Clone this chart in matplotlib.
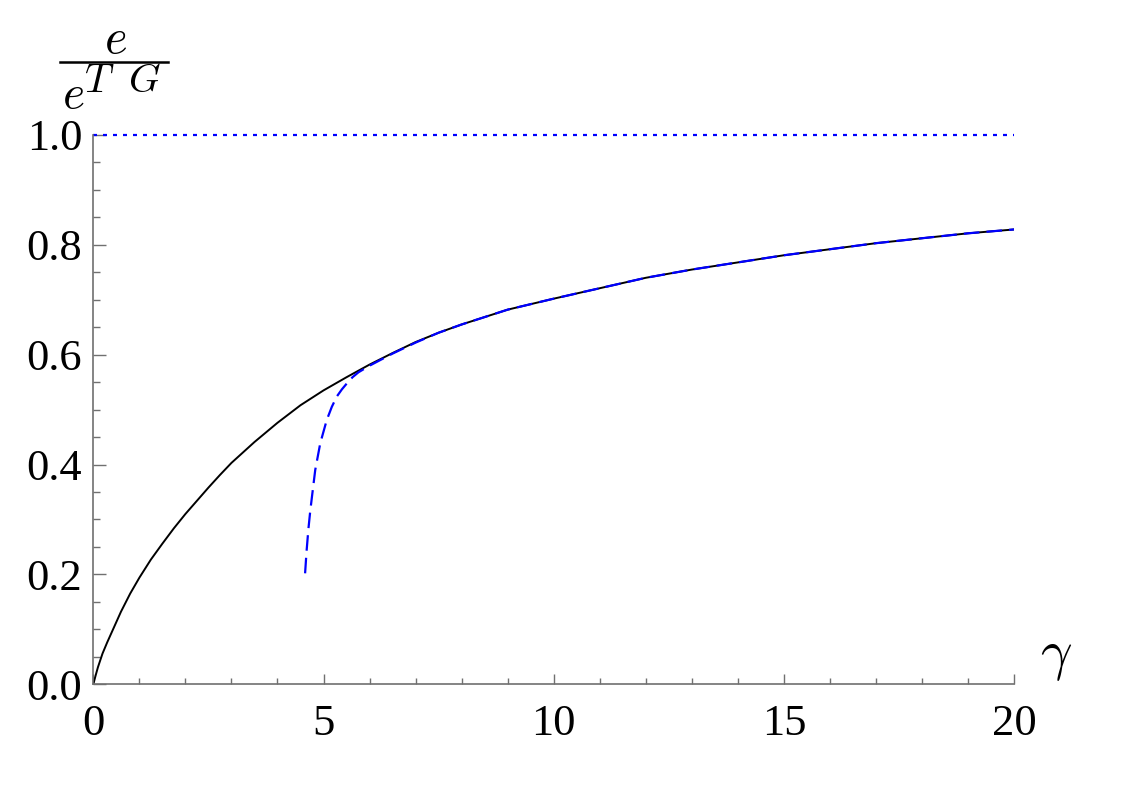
import matplotlib.pyplot as plt
from matplotlib.lines import Line2D
from matplotlib.ticker import MultipleLocator

# exact curve
gamma_exact = [0, 0.05, 0.1, 0.2, 0.3, 0.45, 0.6, 0.8, 1.0, 1.25, 1.5, 1.75, 2.0,
               2.25, 2.5, 2.75, 3.0, 3.5, 4.0, 4.5, 5.0, 5.5, 6.0, 6.5, 7.0, 7.5,
               8, 9, 10, 11, 12, 13, 14, 15, 16, 17, 18, 19, 20]
ratio_exact = [0, 0.016, 0.031, 0.056, 0.076, 0.104, 0.132, 0.165, 0.194, 0.227,
               0.256, 0.284, 0.310, 0.334, 0.358, 0.381, 0.403, 0.441, 0.476,
               0.508, 0.535, 0.559, 0.582, 0.603, 0.623, 0.640, 0.655, 0.682,
               0.702, 0.721, 0.740, 0.755, 0.768, 0.781, 0.792, 0.803, 0.812,
               0.821, 0.828]

# strong coupling expansion (dashed)
gamma_strong = [4.60, 4.63, 4.67, 4.71, 4.75, 4.82, 4.93, 5.07, 5.18, 5.29, 5.40,
                5.51, 5.63, 5.76, 6.0, 6.5, 7.0, 7.5, 8, 9, 10, 11, 12, 13, 14,
                15, 16, 17, 18, 19, 20]
ratio_strong = [0.202, 0.240, 0.281, 0.314, 0.342, 0.390, 0.439, 0.481, 0.505,
                0.524, 0.537, 0.548, 0.559, 0.568, 0.580, 0.602, 0.622, 0.640,
                0.655, 0.682, 0.702, 0.721, 0.740, 0.755, 0.768, 0.781, 0.792,
                0.803, 0.812, 0.821, 0.828]

# Tonks-Girardeau limit
gamma_tg = [0, 20]
ratio_tg = [1.0, 1.0]

plt.rcParams['font.family'] = 'Liberation Serif'
plt.rcParams['mathtext.fontset'] = 'cm'

W, H = 1123, 794
fig = plt.figure(figsize=(W / 100, H / 100), dpi=100)
ax = fig.add_axes([0.0831, 0.1382, 0.8199, 0.6918])

ax.plot(gamma_exact, ratio_exact, color='black', lw=1.4)
ax.plot(gamma_strong, ratio_strong, color='#0000ff', lw=1.6, ls=(0, (7, 3.2)))
ax.plot(gamma_tg, ratio_tg, color='#0000ff', lw=1.6, ls=(0, (1.8, 2.7)), clip_on=False)

ax.set_xlim(0, 20)
ax.set_ylim(0, 1.0)

for s in ['top', 'right']:
    ax.spines[s].set_visible(False)
for s in ['left', 'bottom']:
    ax.spines[s].set_color('#707070')
    ax.spines[s].set_linewidth(1.2)

ax.xaxis.set_major_locator(MultipleLocator(5))
ax.xaxis.set_minor_locator(MultipleLocator(1))
ax.yaxis.set_major_locator(MultipleLocator(0.2))
ax.yaxis.set_minor_locator(MultipleLocator(0.05))
ax.yaxis.set_major_formatter(lambda v, p: f'{v:.1f}')

ax.tick_params(which='both', direction='in', color='#707070', width=1.0,
               labelsize=32)
ax.tick_params(axis='y', which='major', length=9, pad=8)
ax.tick_params(axis='y', which='minor', length=5)
ax.tick_params(axis='x', which='major', length=7.5, pad=14)
ax.tick_params(axis='x', which='minor', length=4.5)

# y label e / e^TG, drawn in pieces (superscript is nearly full size)
def px(x, y):
    return x / W, 1 - y / H

fig.text(*px(115, 53), r'$e$', fontsize=35, ha='center', va='baseline')
fig.add_artist(Line2D([60 / W, 168 / W], [1 - 62 / H, 1 - 62 / H],
                      color='black', lw=1.8, transform=fig.transFigure))
fig.text(*px(73, 108), r'$e$', fontsize=34, ha='center', va='baseline')
fig.text(*px(99, 92), r'$T$', fontsize=29, ha='center', va='baseline')
fig.text(*px(144, 92), r'$G$', fontsize=29, ha='center', va='baseline')

fig.text(*px(1056, 657), r'$\gamma$', fontsize=40, ha='center', va='center')

fig.savefig('out.png', dpi=100)
